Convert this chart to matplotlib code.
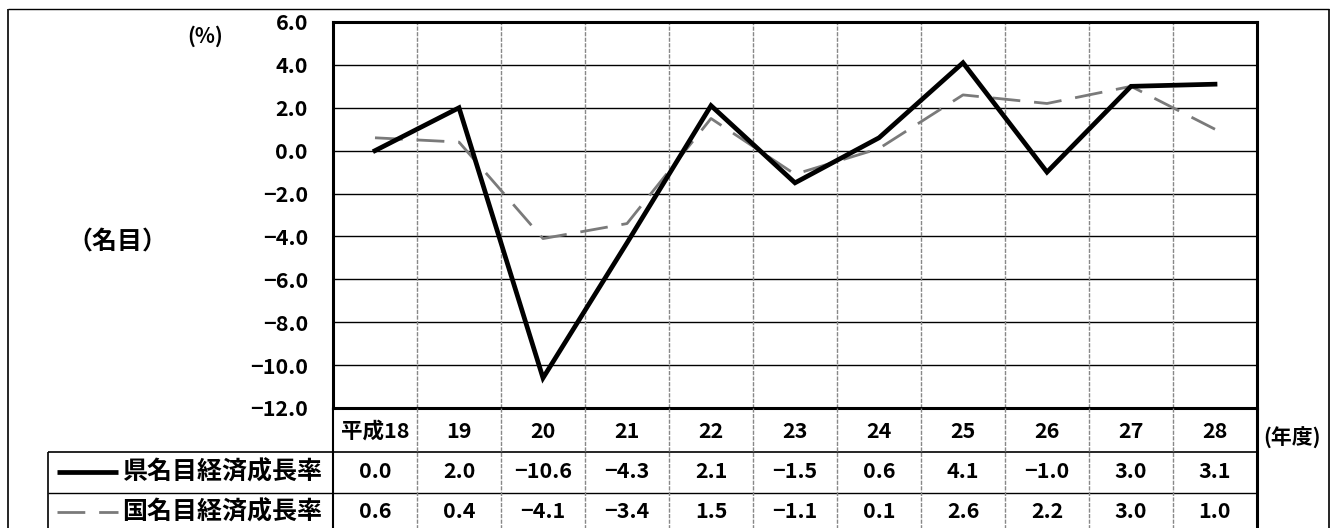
import matplotlib
matplotlib.use("Agg")
import matplotlib.pyplot as plt
from matplotlib.lines import Line2D

plt.rcParams['font.family'] = ['Noto Sans CJK JP', 'DejaVu Sans']
plt.rcParams['font.weight'] = 'bold'

categories = ["平成18", "19", "20", "21", "22", "23", "24", "25", "26", "27", "28"]
pref_growth = [0.0, 2.0, -10.6, -4.3, 2.1, -1.5, 0.6, 4.1, -1.0, 3.0, 3.1]
nat_growth = [0.6, 0.4, -4.1, -3.4, 1.5, -1.1, 0.1, 2.6, 2.2, 3.0, 1.0]
series_names = ["県名目経済成長率", "国名目経済成長率"]
y_ticks = [6.0, 4.0, 2.0, 0.0, -2.0, -4.0, -6.0, -8.0, -10.0, -12.0]

W, H = 1338, 528
fig = plt.figure(figsize=(W / 100, H / 100), dpi=100)


def fx(px):
    return px / W


def fy(py):
    return 1 - py / H


def hline(x0, x1, y, lw=1.0, color="black", ls="-"):
    fig.add_artist(Line2D([fx(x0), fx(x1)], [fy(y), fy(y)], lw=lw, color=color, ls=ls,
                          solid_capstyle="butt"))


def vline(x, y0, y1, lw=1.0, color="black", ls="-"):
    fig.add_artist(Line2D([fx(x), fx(x)], [fy(y0), fy(y1)], lw=lw, color=color, ls=ls,
                          solid_capstyle="butt"))


def fmt(v):
    return f"{v:.1f}".replace("-", "−")


NUM_FS = 15.5

# plot area in pixels
L, T, R, B = 333, 22, 1257, 408
ax = fig.add_axes([fx(L), fy(B), fx(R - L), (B - T) / H])

n = len(categories)
xs = list(range(n))
ax.plot(xs, nat_growth, color="#7a7a7a", lw=2.0, dashes=(10, 5), zorder=3)
ax.plot(xs, pref_growth, color="black", lw=3.4, zorder=4, solid_joinstyle="miter")

ax.set_xlim(-0.5, n - 0.5)
ax.set_ylim(-12, 6)
ax.set_yticks(y_ticks)
ax.set_yticklabels([fmt(v) for v in y_ticks], fontsize=NUM_FS, fontweight="bold")
ax.tick_params(axis="y", length=0, pad=18)
ax.set_xticks([])
for v in y_ticks[1:-1]:
    ax.axhline(v, color="black", lw=1.0, zorder=1)
for i in range(n - 1):
    ax.axvline(i + 0.5, color="#888888", lw=1.0, ls=(0, (3, 1)), zorder=1)
for s in ax.spines.values():
    s.set_linewidth(2.2)
    s.set_color("black")

# outer frame
hline(8, 1329, 9, lw=1.0)
vline(8, 9, 528, lw=1.2)
vline(1329, 9, 528, lw=1.2)

# data table under the plot
col_w = (R - L) / n
hline(48, R, 452, lw=1.2)
hline(48, R, 493, lw=1.0)
vline(L, 408, 528, lw=1.5)
vline(R, 408, 528, lw=2.2)
vline(48, 452, 528, lw=1.2)
for i in range(1, n):
    xb = L + i * col_w
    vline(xb, 408, 528, lw=1.0, color="#888888", ls=(0, (3, 1)))

for i, cat in enumerate(categories):
    xc = L + (i + 0.5) * col_w
    fig.text(fx(xc), fy(431), cat, ha="center", va="center", fontsize=NUM_FS,
             fontweight="bold")
    fig.text(fx(xc), fy(472), fmt(pref_growth[i]), ha="center", va="center",
             fontsize=NUM_FS, fontweight="bold")
    fig.text(fx(xc), fy(512), fmt(nat_growth[i]), ha="center", va="center",
             fontsize=NUM_FS, fontweight="bold")

# legend keys inside the table
fig.add_artist(Line2D([fx(57), fx(118)], [fy(472), fy(472)], lw=3.4, color="black",
                      solid_capstyle="butt"))
fig.add_artist(Line2D([fx(57), fx(118)], [fy(512), fy(512)], lw=2.0, color="#7a7a7a",
                      dashes=(10, 5)))
fig.text(fx(122), fy(472), series_names[0], ha="left", va="center", fontsize=18,
         fontweight="bold")
fig.text(fx(122), fy(512), series_names[1], ha="left", va="center", fontsize=18,
         fontweight="bold")

# annotations
fig.text(fx(205), fy(36), "(%)", ha="center", va="center", fontsize=15, fontweight="bold")
fig.text(fx(117), fy(243), "（名目）", ha="center", va="center", fontsize=18, fontweight="bold")
fig.text(fx(1292), fy(438), "(年度)", ha="center", va="center", fontsize=15, fontweight="bold")

fig.savefig("out.png", dpi=100)
